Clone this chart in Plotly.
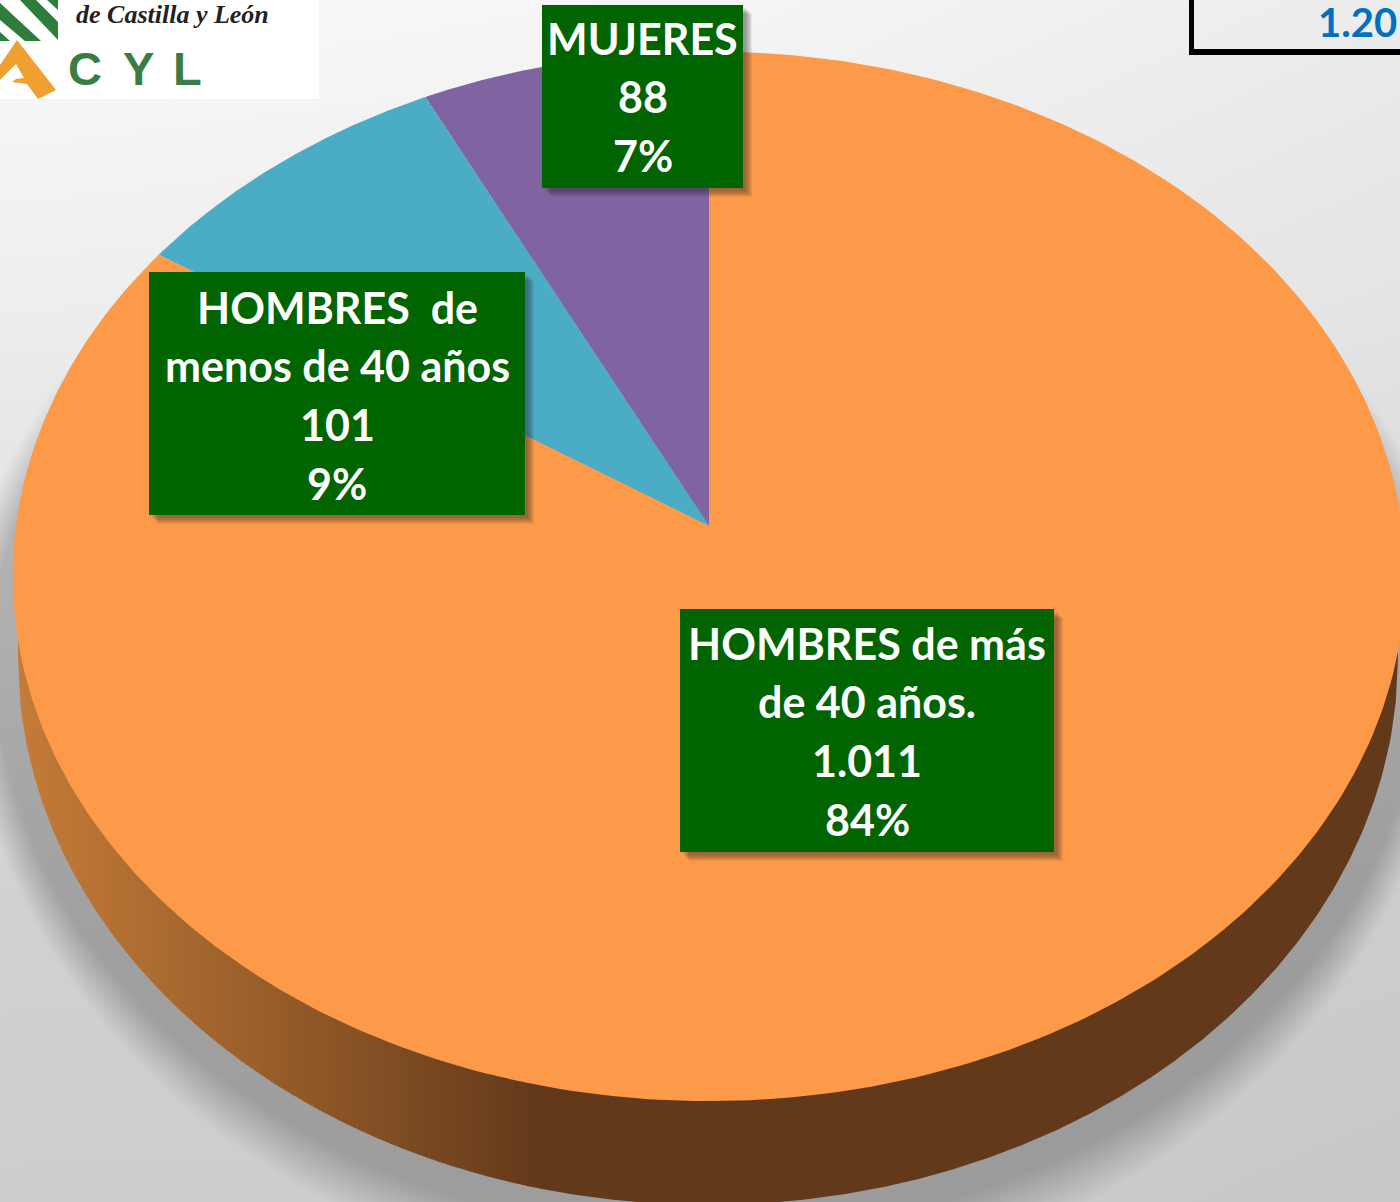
import numpy as np
import plotly.graph_objects as go

# ---------- data ----------
categories = ["MUJERES", "HOMBRES de menos de 40 años", "HOMBRES de más de 40 años."]
values = [88, 101, 1011]
percent_labels = ["7%", "9%", "84%"]
value_labels = ["88", "101", "1.011"]
label_lines = [["MUJERES"], ["HOMBRES  de", "menos de 40 años"], ["HOMBRES de más", "de 40 años."]]
slice_colors = ["#8064A2", "#4BACC6", "#FD9A49"]
total_label = "1.20"

# ---------- styling ----------
W, H = 1400, 1202
FONT = "Lato"
GREEN = "#006400"
bg_x = [0, 700, 1400]
bg_y = [0, 300, 600, 900, H]
bg_levels = [[249, 245, 236], [238, 236, 228], [224, 222, 216], [209, 208, 205], [205, 205, 200]]

# perspective disc
AX, BY, K, PX, PY = 693.0, 520.0, 0.0958, 709.0, 526.0


def disc(theta):
    sx, cy = np.sin(theta), np.cos(theta)
    w = 1 + K * cy
    return PX + AX * sx / w, PY - BY * cy / w


def skip(**kw):
    return go.Scatter(hoverinfo="skip", showlegend=False, **kw)


fig = go.Figure()
fig.add_trace(go.Heatmap(x=bg_x, y=bg_y, z=bg_levels, zmin=0, zmax=255, zsmooth="best",
                         colorscale=[[0, "#000"], [1, "#fff"]], showscale=False, hoverinfo="skip"))

# soft shadow under the pie
t = np.linspace(0, 2 * np.pi, 361)
STEPS = 24
for i in range(STEPS):
    f = i / (STEPS - 1)
    a = 744 - 28 * f
    b = 642 - 57 * f
    s = np.sin(t)
    sy = np.where(s > 0, 650 + b * s, 650 + (b - 90) * s)
    fig.add_trace(skip(x=708 + a * np.cos(t), y=sy, mode="lines",
                       fill="toself", line=dict(width=0), fillcolor="rgba(0,0,0,0.007)"))

# side wall
EB_A, EB_B, EB_X, EB_Y = 690.0, 547.0, 708.0, 658.0
wall_stops_x = [18, 300, 540, 1400]
wall_stops_rgb = np.array([[198, 124, 56], [146, 90, 41], [99, 57, 27], [99, 57, 27]])
edges = list(np.arange(18, 540, 4)) + [1398]
for x0, x1 in zip(edges[:-1], edges[1:]):
    n = 5 if x1 - x0 < 10 else 400
    xs = np.linspace(x0, x1 + (1 if n == 5 else 0), n)
    low = EB_Y + EB_B * np.sqrt(np.clip(1 - ((xs - EB_X) / EB_A) ** 2, 0, 1))
    high = np.full_like(xs, EB_Y - 60)
    rgb = [int(np.interp((x0 + x1) / 2 if n == 5 else 540, wall_stops_x, wall_stops_rgb[:, c])) for c in range(3)]
    col = f"rgb({rgb[0]},{rgb[1]},{rgb[2]})"
    fig.add_trace(skip(x=np.r_[xs, xs[::-1]], y=np.r_[low, high[::-1]], mode="lines", fill="toself",
                       line=dict(width=0), fillcolor=col))

# the slices, each angle taken from the values
total = sum(values)
start = 0.0
for v, col, name in zip(values, slice_colors, categories):
    sweep = 2 * np.pi * v / total
    th = -(start + np.linspace(0, sweep, 361))
    sx, sy = disc(th)
    fig.add_trace(go.Scatter(x=np.r_[PX, sx, PX], y=np.r_[PY, sy, PY], mode="lines", fill="toself",
                             line=dict(width=0), fillcolor=col, name=name, showlegend=False,
                             hoverinfo="name"))
    start += sweep

shapes = []
annotations = []


def rect(x0, y0, x1, y1, color):
    shapes.append(dict(type="rect", x0=x0, x1=x1, y0=y0, y1=y1, fillcolor=color,
                       line=dict(width=0), layer="above"))


def text(x, y, s, size, color, family=FONT, bold=True, italic=False, anchor="center"):
    annotations.append(dict(x=x, y=y, text=s, showarrow=False, xanchor=anchor, yanchor="middle",
                            font=dict(family=family, size=size, color=color,
                                      weight=700 if bold else 400,
                                      style="italic" if italic else "normal")))


# label boxes
boxes = [(542, 5, 743, 188), (149, 272, 525, 515), (680, 609, 1054, 852)]
first_line = [38, 307, 643]
LINE = 58.7
for (x0, y0, x1, y1), lines, val, pct, yy in zip(boxes, label_lines, value_labels, percent_labels, first_line):
    for d in (9, 8, 7, 6, 5, 4, 3):
        rect(x0 + d, y0 + d, x1 + d, y1 + d, "rgba(40,40,40,0.08)")
    rect(x0, y0, x1, y1, GREEN)
    for i, s in enumerate(lines + [val, pct]):
        text((x0 + x1) / 2, yy + i * LINE, s, 43, "#ffffff")

# total box in the corner
rect(1189, 0, 1194, 55, "#000000")
rect(1189, 49, W, 55, "#000000")
text(1399, 22, total_label, 40, "#0070C0", anchor="right")

# logo
rect(0, 0, 319, 99, "#ffffff")
logo_green = "#2F7D3A"
bands = [
    [(0, 3), (0, 20), (25, 41), (41, 41)],
    [(20, 0), (36, 0), (58, 22), (58, 40)],
    [(47, 0), (58, 0), (58, 10)],
    [(0, 32), (10, 41), (0, 41)],
]
for poly in bands:
    path = "M" + "L".join(f"{px},{py}" for px, py in poly) + "Z"
    shapes.append(dict(type="path", path=path, fillcolor=logo_green, line=dict(width=0), layer="above"))
shapes.append(dict(type="path",
                   path="M0,65 L17,40 L56,90 L38,99 L27,84 L12,82 L16,79 L24,78 L16,64 L0,80 Z",
                   fillcolor="#F0A030", line=dict(width=0), layer="above"))
text(172, 14, "de Castilla y León", 26, "#222222", family="Liberation Serif", italic=True)
for lx, letter in zip([85, 138, 187], ["C", "Y", "L"]):
    text(lx, 68, letter, 47, "#3A7D44", family="Liberation Sans", bold=True)

fig.update_layout(
    width=W, height=H, margin=dict(l=0, r=0, t=0, b=0), showlegend=False,
    paper_bgcolor="#ffffff", plot_bgcolor="#ffffff",
    xaxis=dict(range=[0, W], visible=False, fixedrange=True),
    yaxis=dict(range=[H, 0], visible=False, fixedrange=True),
    shapes=shapes, annotations=annotations,
)
fig.write_html("out.html", config={"displayModeBar": False},
               post_script="document.body.style.margin='0';document.body.style.overflow='hidden';")
